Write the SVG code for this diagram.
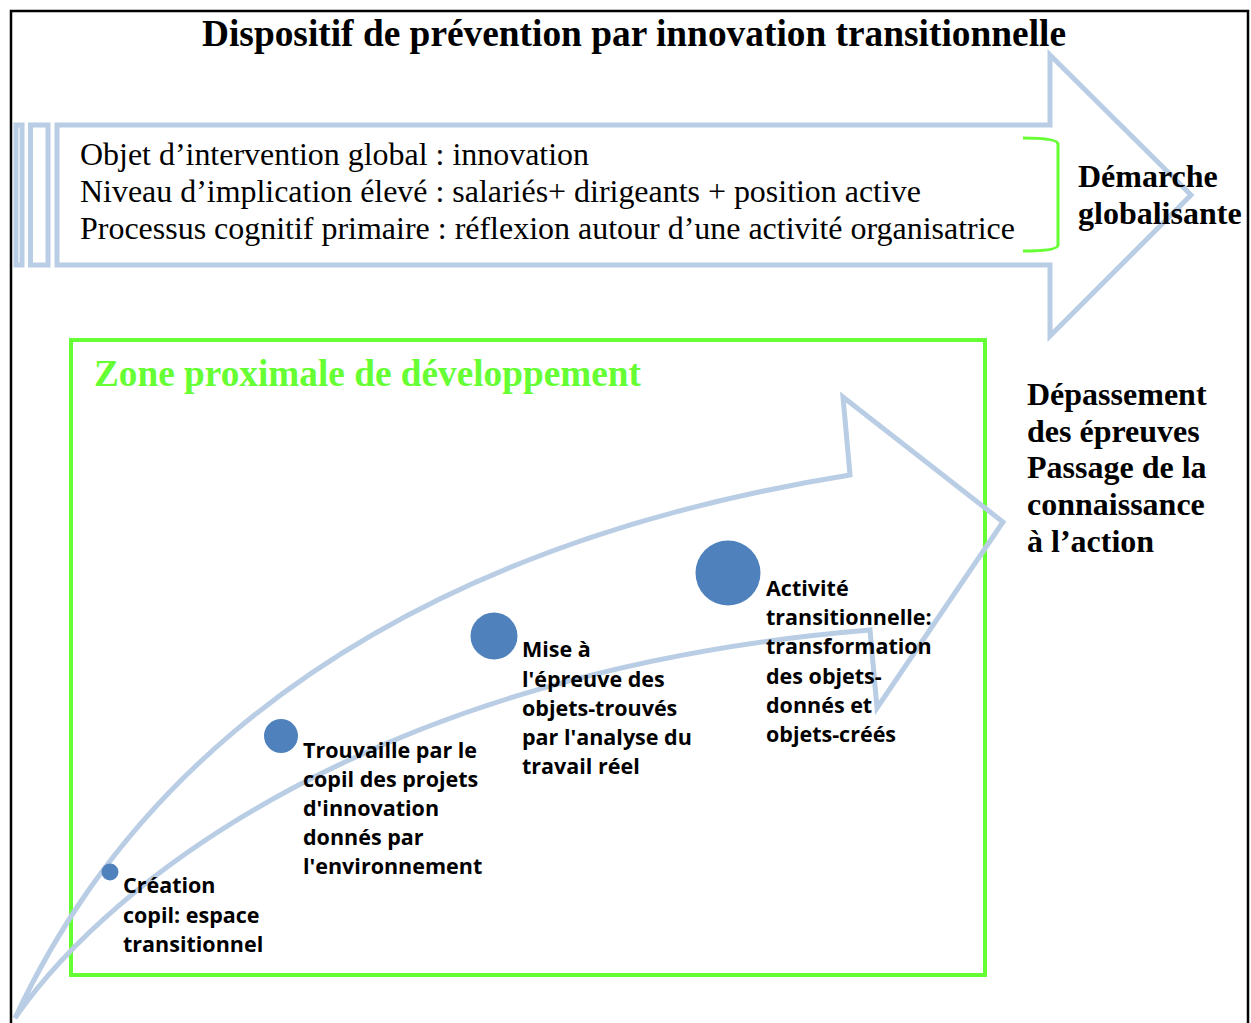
<svg xmlns="http://www.w3.org/2000/svg" width="1251" height="1023" viewBox="0 0 1251 1023">
<style>
.serif{font-family:"Liberation Serif","Times New Roman",serif;fill:#000}
.b{font-weight:bold}
.reg{font-size:31px}
.rb{font-size:32px;font-weight:bold}
.lbl{font-family:"Open Sans","Liberation Sans",sans-serif;font-weight:bold;font-size:21.5px;fill:#000}
.blue{fill:none;stroke:#B9CDE5;stroke-width:5;stroke-linejoin:miter}
.dot{fill:#4F81BD}
</style>
<rect width="1251" height="1023" fill="#fff"/>
<rect x="11" y="11" width="1237" height="1030" fill="none" stroke="#000" stroke-width="2.5"/>
<g id="title"><text class="serif b" x="634" y="46" font-size="37" text-anchor="middle" textLength="864" lengthAdjust="spacingAndGlyphs">Dispositif de prévention par innovation transitionnelle</text></g>
<g id="top-arrow">
<rect class="blue" x="16" y="125" width="6" height="140" stroke-width="4"/>
<rect class="blue" x="30.5" y="125" width="17.5" height="140" stroke-width="4"/>
<polygon class="blue" points="57,125 1050,125 1050,55 1191,195 1050,336 1050,265 57,265"/>
<text class="serif reg" x="80" y="165" textLength="509" lengthAdjust="spacingAndGlyphs">Objet d’intervention global : innovation</text>
<text class="serif reg" x="80" y="202" textLength="841" lengthAdjust="spacingAndGlyphs">Niveau d’implication élevé : salariés+ dirigeants + position active</text>
<text class="serif reg" x="80" y="239" textLength="935" lengthAdjust="spacingAndGlyphs">Processus cognitif primaire : réflexion autour d’une activité organisatrice</text>
<path d="M1023,138 Q1058,138 1058,144 L1058,245 Q1058,251 1023,251" fill="none" stroke="#66FF33" stroke-width="3"/>
</g>
<g id="demarche"><text class="serif rb" x="1078" y="187">Démarche</text><text class="serif rb" x="1078" y="224">globalisante</text></g>
<g id="zone">
<rect x="71" y="340" width="914" height="635" fill="none" stroke="#66FF33" stroke-width="4"/>
<text class="serif b" x="94" y="386" font-size="37" style="fill:#66FF33" textLength="547" lengthAdjust="spacingAndGlyphs">Zone proximale de développement</text>
</g>
<g id="connectors">
<path class="blue" d="M15,1018 C80,880 260,570 850,475 L843,397 L1003,522 L877,708 L870,630 C380,670 110,880 15,1018 Z"/>
</g>
<g id="depassement">
<text class="serif rb" x="1027" y="405">Dépassement</text>
<text class="serif rb" x="1027" y="442">des épreuves</text>
<text class="serif rb" x="1027" y="478">Passage de la</text>
<text class="serif rb" x="1027" y="515">connaissance</text>
<text class="serif rb" x="1027" y="552">à l’action</text>
</g>
<g id="step1"><circle class="dot" cx="110" cy="872" r="8.5"/>
<text class="lbl"><tspan x="123" y="893">Création</tspan><tspan x="123" y="923">copil: espace</tspan><tspan x="123" y="952">transitionnel</tspan></text></g>
<g id="step2"><circle class="dot" cx="281" cy="736" r="17"/>
<text class="lbl"><tspan x="303" y="758">Trouvaille par le</tspan><tspan x="303" y="787">copil des projets</tspan><tspan x="303" y="816">d'innovation</tspan><tspan x="303" y="845">donnés par</tspan><tspan x="303" y="874">l'environnement</tspan></text></g>
<g id="step3"><circle class="dot" cx="494" cy="636" r="23.5"/>
<text class="lbl"><tspan x="522" y="657">Mise à</tspan><tspan x="522" y="687">l'épreuve des</tspan><tspan x="522" y="716">objets-trouvés</tspan><tspan x="522" y="745">par l'analyse du</tspan><tspan x="522" y="774">travail réel</tspan></text></g>
<g id="step4"><circle class="dot" cx="728" cy="573" r="32.5"/>
<text class="lbl"><tspan x="766" y="596">Activité</tspan><tspan x="766" y="625">transitionnelle:</tspan><tspan x="766" y="654">transformation</tspan><tspan x="766" y="684">des objets-</tspan><tspan x="766" y="713">donnés et</tspan><tspan x="766" y="742">objets-créés</tspan></text></g>
</svg>
